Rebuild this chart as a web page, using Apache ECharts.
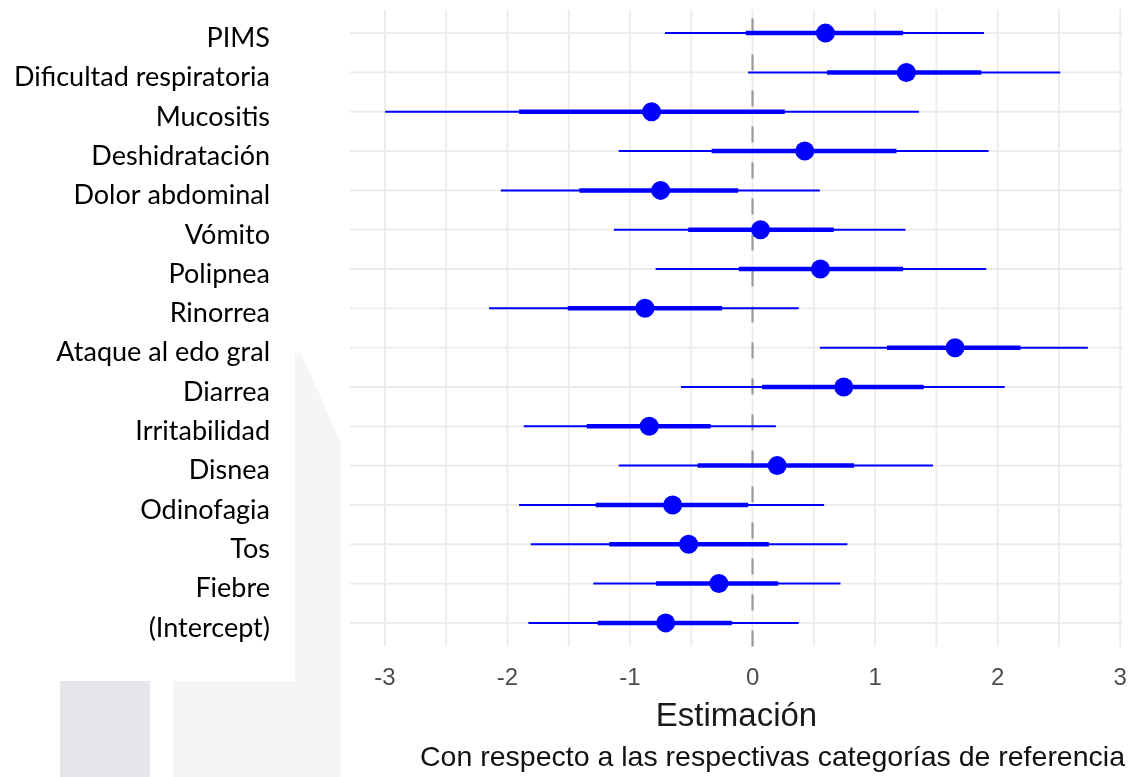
<!DOCTYPE html>
<html>
<head>
<meta charset="utf-8">
<script src="https://cdn.jsdelivr.net/npm/echarts@6/dist/echarts.min.js"></script>
<style>
html,body{margin:0;padding:0;background:#fff;}
#chart{width:1130px;height:777px;}
</style>
</head>
<body>
<div id="chart"></div>
<script>
// Categories listed top to bottom as in the figure
const categories = ['PIMS','Dificultad respiratoria','Mucositis','Deshidratación','Dolor abdominal','Vómito','Polipnea','Rinorrea','Ataque al edo gral','Diarrea','Irritabilidad','Disnea','Odinofagia','Tos','Fiebre','(Intercept)'];
const estimate  = [0.595, 1.255, -0.824, 0.426, -0.750, 0.065, 0.554, -0.878, 1.652, 0.744, -0.843, 0.201, -0.652, -0.522, -0.275, -0.709];
const innerLow  = [-0.055, 0.608, -1.905, -0.334, -1.413, -0.525, -0.112, -1.508, 1.097, 0.078, -1.353, -0.448, -1.280, -1.169, -0.788, -1.264];
const innerHigh = [1.228, 1.867, 0.263, 1.174, -0.117, 0.663, 1.228, -0.248, 2.187, 1.396, -0.342, 0.828, -0.036, 0.133, 0.209, -0.169];
const outerLow  = [-0.715, -0.036, -2.998, -1.092, -2.054, -1.131, -0.791, -2.150, 0.549, -0.584, -1.867, -1.092, -1.905, -1.810, -1.299, -1.829];
const outerHigh = [1.888, 2.511, 1.358, 1.926, 0.549, 1.247, 1.907, 0.377, 2.736, 2.057, 0.190, 1.472, 0.584, 0.774, 0.717, 0.377];
const xTickLabels = [-3, -2, -1, 0, 1, 2, 3];
const xGridValues = [-3, -2.5, -2, -1.5, -1, -0.5, 0, 0.5, 1, 1.5, 2, 2.5, 3];
const xAxisTitle = 'Estimación';
const captionText = 'Con respecto a las respectivas categorías de referencia';

const n = categories.length;
const yPos = i => n - 1 - i;
// ggplot-like 5% expansion of the x range, 0.6 for the discrete y axis
const lo = Math.min(...outerLow), hi = Math.max(...outerHigh);
const pad = (hi - lo) * 0.05;
const xMin = lo - pad, xMax = hi + pad;
const yMin = -0.6, yMax = n - 1 + 0.6;
const labelShift = 0.13; // labels sit slightly below their rows in the figure

const outerData = categories.map((c, i) => [outerLow[i], outerHigh[i], yPos(i)]);
const innerData = categories.map((c, i) => [innerLow[i], innerHigh[i], yPos(i)]);
const pointData = categories.map((c, i) => [estimate[i], yPos(i)]);
const rowValues = categories.map((c, i) => yPos(i));

function segRender(width) {
  return function (params, api) {
    const a = api.coord([api.value(0), api.value(2)]);
    const b = api.coord([api.value(1), api.value(2)]);
    return { type: 'line', shape: { x1: a[0], y1: a[1], x2: b[0], y2: b[1] },
      style: { stroke: '#0000ff', lineWidth: width } };
  };
}

const chart = echarts.init(document.getElementById('chart'), null, { renderer: 'canvas' });
chart.setOption({
  backgroundColor: '#ffffff',
  animation: false,
  graphic: [
    { type: 'polygon', z: -10, silent: true,
      shape: { points: [[295,353],[301,353],[341,443],[341,777],[173,777],[173,681],[295,681]] },
      style: { fill: '#f5f5f7' } },
    { type: 'rect', z: -10, silent: true, shape: { x: 60, y: 681, width: 90, height: 96 }, style: { fill: '#e5e5ea' } },
    { type: 'text', z: 10, right: 5, top: 744,
      style: { text: captionText, font: '28.5px "Liberation Sans", Arial, sans-serif', fill: '#111111' } }
  ],
  grid: { left: 350, right: 7, top: 9.5, bottom: 130.5, containLabel: false },
  xAxis: {
    type: 'value', min: xMin, max: xMax,
    axisLine: { show: false }, axisTick: { show: false }, splitLine: { show: false },
    axisLabel: { customValues: xTickLabels, margin: 20, fontSize: 24, color: '#4d4d4d',
      fontFamily: '"Liberation Sans", Arial, sans-serif' },
    name: xAxisTitle, nameLocation: 'middle', nameGap: 54,
    nameTextStyle: { fontSize: 33, color: '#1a1a1a', fontFamily: '"Liberation Sans", Arial, sans-serif' }
  },
  yAxis: {
    type: 'value', min: yMin, max: yMax,
    axisLine: { show: false }, axisTick: { show: false }, splitLine: { show: false },
    axisLabel: { customValues: rowValues.map(v => v - labelShift), margin: 80, fontSize: 27, color: '#000000',
      fontFamily: 'Lato, "Open Sans", sans-serif',
      formatter: v => categories[n - 1 - Math.round(v)] }
  },
  series: [
    { type: 'custom', z: 1, silent: true, data: xGridValues.map(v => [v]),
      encode: { x: 0 },
      renderItem: (params, api) => {
        const a = api.coord([api.value(0), yMin]);
        const b = api.coord([api.value(0), yMax]);
        return { type: 'line', shape: { x1: a[0], y1: a[1], x2: b[0], y2: b[1] },
          style: { stroke: '#ebebeb', lineWidth: 1.8 } };
      } },
    { type: 'custom', z: 1, silent: true, data: rowValues.map(v => [v]),
      encode: { y: 0 },
      renderItem: (params, api) => {
        const a = api.coord([xMin, api.value(0)]);
        const b = api.coord([xMax, api.value(0)]);
        return { type: 'line', shape: { x1: a[0], y1: a[1], x2: b[0], y2: b[1] },
          style: { stroke: '#ebebeb', lineWidth: 1.8 } };
      } },
    { type: 'custom', z: 2, silent: true, data: [[0]],
      encode: { x: 0 },
      renderItem: (params, api) => {
        const a = api.coord([api.value(0), yMin]);
        const b = api.coord([api.value(0), yMax]);
        return { type: 'line', shape: { x1: a[0], y1: a[1], x2: b[0], y2: b[1] },
          style: { stroke: '#9a9a9a', lineWidth: 2.2, lineDash: [16, 20] } };
      } },
    { type: 'custom', z: 3, data: outerData, encode: { x: [0, 1], y: 2 }, renderItem: segRender(2) },
    { type: 'custom', z: 4, data: innerData, encode: { x: [0, 1], y: 2 }, renderItem: segRender(4.5) },
    { type: 'scatter', z: 5, data: pointData, symbol: 'circle', symbolSize: 19,
      itemStyle: { color: '#0000ff', opacity: 1 } }
  ]
});
</script>
</body>
</html>
